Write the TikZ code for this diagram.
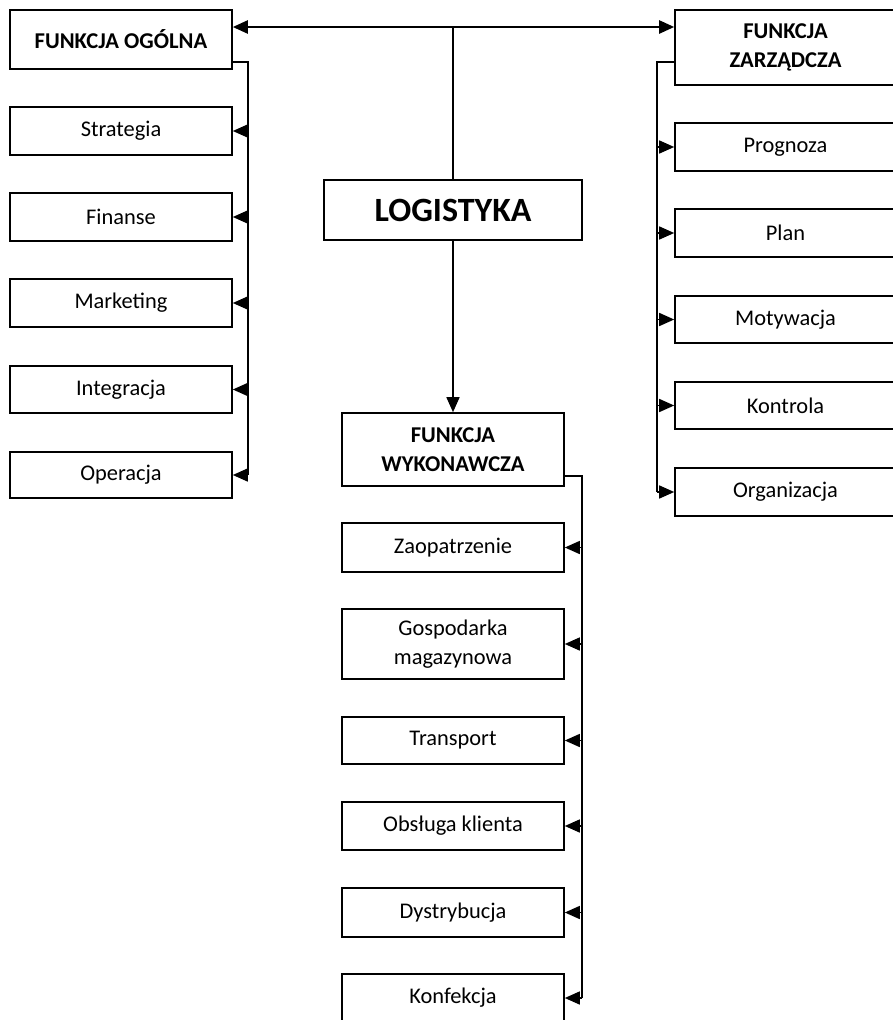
\documentclass[tikz,border=0pt]{standalone}
\usepackage{fontspec}
\setmainfont{Carlito}
\usetikzlibrary{arrows.meta}
\begin{document}
\begin{tikzpicture}[x=1pt,y=-1pt,
  box/.style={draw,line width=1.6pt,inner sep=0pt,align=center,font=\fontsize{22.4}{28.5}\selectfont},
  head/.style={box,font=\fontsize{22.6}{28.5}\selectfont\bfseries},
  conn/.style={line width=1.5pt},
  arr/.style={conn,-{Triangle[length=15pt,width=13pt]}},
  mainl/.style={line width=2.4pt}]
\useasboundingbox (0,0) rectangle (892,1020);
% left column
\node[head,minimum width=222pt,minimum height=59pt] (fo) at (121,39.5) {FUNKCJA OGÓLNA};
\node[box,minimum width=222pt,minimum height=48pt] (s1) at (121,131) {Strategia};
\node[box,minimum width=222pt,minimum height=48pt] (s2) at (121,217) {Finanse};
\node[box,minimum width=222pt,minimum height=48pt] (s3) at (121,303) {Marketing};
\node[box,minimum width=222pt,minimum height=47pt] (s4) at (121,389.5) {Integracja};
\node[box,minimum width=222pt,minimum height=46pt] (s5) at (121,475) {Operacja};
% centre
\node[box,minimum width=258pt,minimum height=60pt,font=\fontsize{34}{40}\selectfont\bfseries] (log) at (453,210) {LOGISTYKA};
\node[head,minimum width=222pt,minimum height=73pt] (fw) at (453,449.5) {FUNKCJA\\WYKONAWCZA};
\node[box,minimum width=222pt,minimum height=49pt] (w1) at (453,547.5) {Zaopatrzenie};
\node[box,minimum width=222pt,minimum height=70pt] (w2) at (453,644) {Gospodarka\\magazynowa};
\node[box,minimum width=222pt,minimum height=47pt] (w3) at (453,740.5) {Transport};
\node[box,minimum width=222pt,minimum height=48pt] (w4) at (453,826) {Obsługa klienta};
\node[box,minimum width=222pt,minimum height=49pt] (w5) at (453,912.5) {Dystrybucja};
\node[box,minimum width=222pt,minimum height=48pt] (w6) at (453,998) {Konfekcja};
% right column
\node[head,minimum width=221pt,minimum height=75pt] (fz) at (785.5,47.5) {FUNKCJA\\ZARZĄDCZA};
\node[box,minimum width=221pt,minimum height=48pt] (z1) at (785.5,147) {Prognoza};
\node[box,minimum width=221pt,minimum height=48pt] (z2) at (785.5,233) {Plan};
\node[box,minimum width=221pt,minimum height=47pt] (z3) at (785.5,319.5) {Motywacja};
\node[box,minimum width=221pt,minimum height=47pt] (z4) at (785.5,405.5) {Kontrola};
\node[box,minimum width=221pt,minimum height=48pt] (z5) at (785.5,492) {Organizacja};
% trunk coordinates
\coordinate (mainy) at (0,27);
\coordinate (ltr) at (248,0);
\coordinate (rtr) at (657,0);
\coordinate (wtr) at (582,0);
% main connectors
\draw[mainl,{Triangle[length=15pt,width=13pt]}-{Triangle[length=15pt,width=13pt]}] (mainy -| fo.east) -- (mainy -| fz.west);
\draw[conn] (log.north) -- (log.north |- mainy);
\draw[arr] (log.south) -- (fw.north);
% left branch
\draw[conn] ([yshift=8pt]fo.south east) -| (ltr |- s5.east);
\foreach \n in {s1,s2,s3,s4,s5} \draw[arr] (ltr |- \n.east) -- (\n.east);
% right branch
\draw[conn] ([yshift=24pt]fz.south west) -| (rtr |- z5.west);
\foreach \n in {z1,z2,z3,z4,z5} \draw[arr] (rtr |- \n.west) -- (\n.west);
% bottom branch
\draw[conn] ([yshift=11pt]fw.south east) -| (wtr |- w6.east);
\foreach \n in {w1,w2,w3,w4,w5,w6} \draw[arr] (wtr |- \n.east) -- (\n.east);
\end{tikzpicture}
\end{document}
